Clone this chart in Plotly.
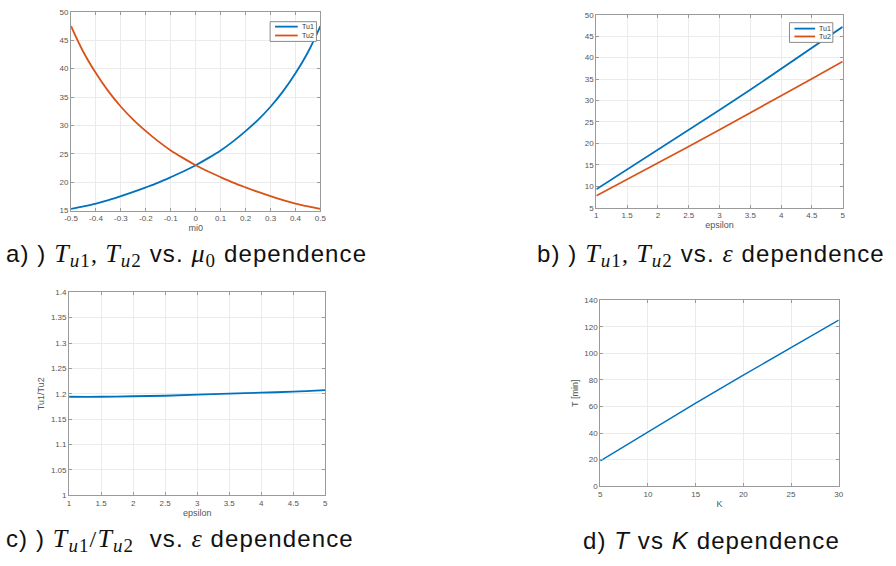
import plotly.graph_objects as go

# ---------------- data ----------------
mi0 = [-0.5, -0.45, -0.4, -0.35, -0.3, -0.25, -0.2, -0.15, -0.1, -0.05, 0.0,
       0.05, 0.1, 0.15, 0.2, 0.25, 0.3, 0.35, 0.4, 0.45, 0.5]
tu1_mi0 = [15.3, 15.75, 16.25, 16.85, 17.55, 18.3, 19.1, 19.95, 20.9, 21.9, 23.0,
           24.25, 25.6, 27.2, 29.0, 31.0, 33.3, 36.0, 39.2, 42.9, 47.5]
tu2_mi0 = [47.5, 42.9, 39.2, 36.0, 33.3, 31.0, 29.0, 27.2, 25.6, 24.25, 23.0,
           21.9, 20.9, 19.95, 19.1, 18.3, 17.55, 16.85, 16.25, 15.75, 15.3]
mi0_ticks = [-0.5, -0.4, -0.3, -0.2, -0.1, 0, 0.1, 0.2, 0.3, 0.4, 0.5]
mi0_ticklabels = ["-0.5", "-0.4", "-0.3", "-0.2", "-0.1", "0", "0.1", "0.2", "0.3", "0.4", "0.5"]

epsilon = [1.0, 1.5, 2.0, 2.5, 3.0, 3.5, 4.0, 4.5, 5.0]
tu1_eps = [9.3, 13.9, 18.5, 23.1, 27.8, 32.5, 37.4, 42.3, 47.2]
tu2_eps = [7.8, 11.6, 15.5, 19.3, 23.2, 27.1, 31.1, 35.1, 39.1]
ratio_eps = [1.194, 1.194, 1.195, 1.196, 1.198, 1.200, 1.202, 1.204, 1.207]

K = [5, 10, 15, 20, 25, 30]
T_min = [19.0, 41.0, 62.5, 83.6, 104.5, 125.0]

legend_names = ["Tu1", "Tu2"]

SERIF = "font-family:'Liberation Serif'"
def Tsub(s):
    return (f'<span style="{SERIF};font-size:26px"><i>T</i><sub><span style="font-size:19px">'
            f'<i>u</i>{s}</span></sub></span>')

def LS(t):
    return f'<span style="letter-spacing:1.1px">{t}</span>'

captions = [
    LS(f'a) ) {Tsub(1)}<span style="{SERIF}">, </span>{Tsub(2)} vs. '
       f'<span style="{SERIF};font-size:26px"><i>μ</i><sub><span style="font-size:19px">0</span></sub></span> dependence'),
    LS(f'b) ) {Tsub(1)}<span style="{SERIF}">, </span>{Tsub(2)} vs. '
       f'<span style="{SERIF};font-size:26px"><i>ε</i></span> dependence'),
    LS(f'c) ) {Tsub(1)}<span style="{SERIF}">/</span>{Tsub(2)}  vs. '
       f'<span style="{SERIF};font-size:26px"><i>ε</i></span> dependence'),
    LS('d) <i>T</i> vs <i>K</i> dependence'),
]

BLUE = "#0072BD"
ORANGE = "#D95319"
W, H = 896, 566

fig = go.Figure()
fig.add_trace(go.Scatter(x=mi0, y=tu1_mi0, mode="lines", line_shape="spline",
                         line=dict(color=BLUE, width=1.8), xaxis="x", yaxis="y"))
fig.add_trace(go.Scatter(x=mi0, y=tu2_mi0, mode="lines", line_shape="spline",
                         line=dict(color=ORANGE, width=1.8), xaxis="x", yaxis="y"))
fig.add_trace(go.Scatter(x=epsilon, y=tu1_eps, mode="lines",
                         line=dict(color=BLUE, width=1.7), xaxis="x2", yaxis="y2"))
fig.add_trace(go.Scatter(x=epsilon, y=tu2_eps, mode="lines",
                         line=dict(color=ORANGE, width=1.7), xaxis="x2", yaxis="y2"))
fig.add_trace(go.Scatter(x=epsilon, y=ratio_eps, mode="lines", line_shape="spline",
                         line=dict(color=BLUE, width=1.8), xaxis="x3", yaxis="y3"))
fig.add_trace(go.Scatter(x=K, y=T_min, mode="lines",
                         line=dict(color=BLUE, width=1.5), xaxis="x4", yaxis="y4"))

FONT = "Liberation Sans, Arial, sans-serif"
tickfont = dict(family=FONT, size=8, color="#555555")
titlefont = dict(family=FONT, size=9, color="#555555")


def ax(domain, rng, dtick, anchor, title=None, standoff=2):
    d = dict(domain=domain, range=rng, dtick=dtick, anchor=anchor,
             showline=True, linecolor="#9a9a9a", linewidth=1, mirror="ticks",
             ticks="inside", ticklen=3, tickcolor="#9a9a9a",
             showgrid=True, gridcolor="#ebebeb", gridwidth=1,
             zeroline=False, tickfont=tickfont, fixedrange=True)
    if title:
        d["title"] = dict(text=title, font=titlefont, standoff=standoff)
    return d


def px_x(a, b):
    return [a / W, b / W]


def px_y(top, bottom):
    return [1 - bottom / H, 1 - top / H]


xa = ax(px_x(65, 318), [-0.5, 0.5], 0.1, "y", "mi0")
xa.update(tickmode="array", tickvals=mi0_ticks, ticktext=mi0_ticklabels)

fig.update_layout(
    width=W, height=H, margin=dict(l=0, r=0, t=0, b=0),
    paper_bgcolor="white", plot_bgcolor="white", showlegend=False,
    xaxis=xa,
    yaxis=ax(px_y(8, 210), [15, 50], 5, "x"),
    xaxis2=ax(px_x(598, 848), [1, 5], 0.5, "y2", "epsilon"),
    yaxis2=ax(px_y(11, 207), [5, 50], 5, "x2"),
    xaxis3=ax(px_x(63, 323), [1, 5], 0.5, "y3", "epsilon", standoff=2),
    yaxis3=ax(px_y(293, 499), [1, 1.4], 0.05, "x3", "Tu1/Tu2", standoff=4),
    xaxis4=ax(px_x(602, 844), [5, 30], 5, "y4", "K"),
    yaxis4=ax(px_y(301, 490), [0, 140], 20, "x4", "T [min]", standoff=4),
)

# compact MATLAB-style legends (box + line samples + labels), in paper pixels
legend_specs = [
    # box x0, x1, y0, y1, line x0, x1, text x, row ys
    (267, 314, 18, 38, 272, 295, 297, (23, 32)),
    (794, 838, 19, 39, 799, 820, 822, (25, 33)),
]
colors = [BLUE, ORANGE]
for bx0, bx1, by0, by1, lx0, lx1, tx, rows in legend_specs:
    fig.add_shape(type="rect", xref="paper", yref="paper",
                  x0=bx0 / W, x1=bx1 / W, y0=1 - by1 / H, y1=1 - by0 / H,
                  line=dict(color="#8a8a8a", width=1), fillcolor="white", layer="above")
    for name, col, ry in zip(legend_names, colors, rows):
        fig.add_shape(type="line", xref="paper", yref="paper",
                      x0=lx0 / W, x1=lx1 / W, y0=1 - ry / H, y1=1 - ry / H,
                      line=dict(color=col, width=1.8), layer="above")
        fig.add_annotation(text=name, xref="paper", yref="paper", x=tx / W, y=1 - ry / H,
                           xanchor="left", yanchor="middle", showarrow=False,
                           font=dict(family=FONT, size=7, color="#333333"))

cap_font = dict(family=FONT, size=24, color="#111111")
cap_pos = [(-3, 255), (536, 255), (-3, 545), (582, 545)]
for text, (cx, cy) in zip(captions, cap_pos):
    fig.add_annotation(text=text, xref="paper", yref="paper", x=cx / W, y=1 - cy / H,
                       xanchor="left", yanchor="middle", showarrow=False, font=cap_font)

fig.write_html("out.html", config={"displayModeBar": False},
               post_script="document.body.style.margin='0';"
                           "document.documentElement.style.overflow='hidden';")
